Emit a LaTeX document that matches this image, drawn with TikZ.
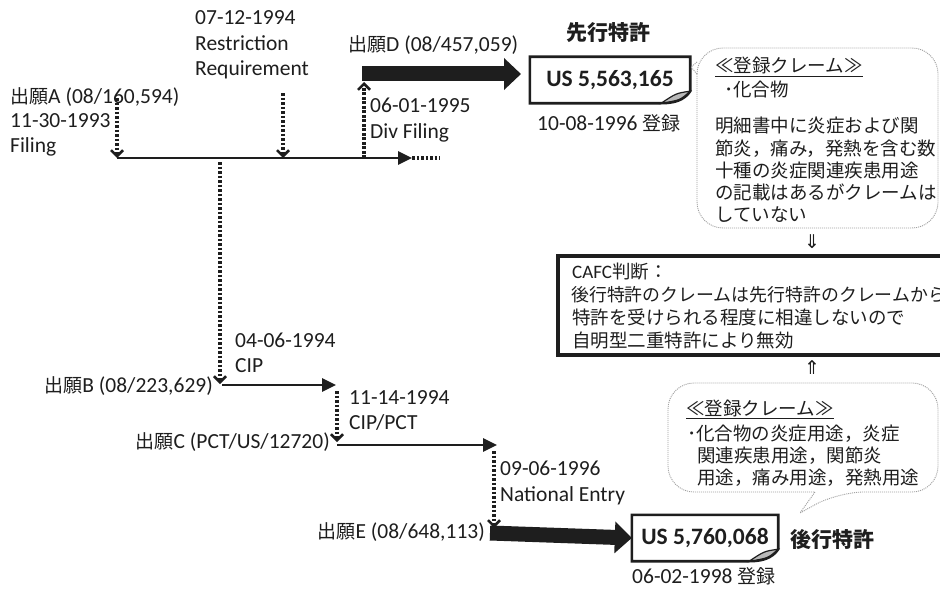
\documentclass[tikz,border=0pt]{standalone}
\usepackage{fontspec}
\setmainfont{Carlito}
\newfontfamily\jp{Noto Sans CJK JP}
\newfontfamily\djv{DejaVu Sans}
\usetikzlibrary{arrows.meta}
\definecolor{ink}{HTML}{1E1E1E}
\newcommand{\J}{\jp\fontsize{19}{24}\selectfont}
\newcommand{\LT}{\rmfamily\fontsize{19}{22}\selectfont}
\tikzset{
  lbl/.style={inner sep=0pt, anchor=west, text=ink, font=\fontsize{21.5}{24}\selectfont, text height=14pt, text depth=4pt},
  lble/.style={lbl, anchor=east},
  clt/.style={inner sep=0pt, anchor=west, text=ink, font=\jp\fontsize{18.5}{22}\selectfont, text height=14pt, text depth=4pt},
  dots/.style={draw=ink, line width=3.1pt, dash pattern=on 2.6pt off 1.9pt},
  vtip/.style={dots, -{Straight Barb[length=6pt,width=12pt,line width=2.5pt]}},
  solidarr/.style={draw=ink, line width=2.6pt, -{Triangle[length=14pt,width=13pt]}},
  bigarr/.style={draw=ink, line width=15pt, -{Triangle[length=17pt,width=31pt]}},
  noteframe/.style={draw=ink, line width=2.6pt},
  callout/.style={draw=gray!75, line width=0.9pt, dash pattern=on 1pt off 1pt},
  cafcbox/.style={draw=ink, line width=3.4pt},
  ttl/.style={inner sep=0pt, text=ink, font=\jp\bfseries\fontsize{21}{24}\selectfont},
  patno/.style={inner sep=0pt, text=ink, font=\bfseries\fontsize{23.5}{26}\selectfont},
  dbl/.style={inner sep=0pt, text=ink, font=\djv\fontsize{19}{20}\selectfont}
}
\newcommand{\notebox}[1]{%
  \draw[noteframe] (#1.north west) -- (#1.north east) -- ([yshift=12pt]#1.south east)
    .. controls ([xshift=-6pt,yshift=3pt]#1.south east) and ([xshift=-16pt]#1.south east) .. ([xshift=-29pt]#1.south east)
    -- (#1.south west) -- cycle;
  \filldraw[fill=gray!55, draw=ink, line width=1.2pt] ([xshift=-29pt]#1.south east)
    .. controls ([xshift=-14pt,yshift=10pt]#1.south east) .. ([yshift=12pt]#1.south east)
    .. controls ([xshift=-10pt,yshift=3pt]#1.south east) .. cycle;
}
\begin{document}
\begin{tikzpicture}[x=1pt,y=-1pt]
\useasboundingbox (0,0) rectangle (940,594);
\clip (0,0) rectangle (940,594);
\fill[white] (0,0) rectangle (940,594);

% ---- application A timeline
\node[lbl] (nA1) at (10,98) {{\J 出願}A (08/160,594)};
\node[lbl] (nA2) at (10,122) {11-30-1993};
\node[lbl] (nA3) at (10,147) {Filing};
\node[lbl] (nR1) at (195,20) {07-12-1994};
\node[lbl] (nR2) at (195,46) {Restriction};
\node[lbl] (nR3) at (195,71) {Requirement};
\node[lbl] (nD) at (348,47) {{\J 出願}D (08/457,059)};
\node[lbl] (nD1) at (370,108) {06-01-1995};
\node[lbl] (nD2) at (370,133) {Div Filing};

\coordinate (m0) at (117,158);
\coordinate (m1) at (412,158);
\coordinate (m2) at (440,158);
\coordinate (aTop) at (117,98);
\coordinate (rTop) at (283,93);
\coordinate (rBot) at (283,158);
\coordinate (dBot) at (364,158);
\coordinate (dTop) at (364,82);
\draw[solidarr] (m0) -- (m1);
\draw[dots] (m1) -- (m2);
\draw[vtip] (aTop) -- (m0);
\draw[vtip] (rTop) -- (rBot);
\draw[vtip] (dBot) -- (dTop);

% ---- prior patent
\node[ttl] (prior) at (608,33) {先行特許};
\node[patno, minimum width=160pt, minimum height=46pt] (us1) at (610,80) {US 5,563,165};
\notebox{us1}
\node[lbl] (reg1) at (537,125) {10-08-1996 {\J 登録}};
\coordinate (dS) at (362,74);
\coordinate (dE) at (521,74);
\draw[bigarr] (dS) -- (dE);

% ---- callout 1
\draw[callout, rounded corners=26pt] (697,48) rectangle (938,228);
\draw[callout] (697,62) -- (691,67) -- (697,74);
\node[clt] (c1a) at (715,68) {\underline{≪登録クレーム≫}};
\node[clt] (c1b) at (724,91) {･化合物};
\node[clt] (c1c) at (715,127) {明細書中に炎症および関};
\node[clt] (c1d) at (715,150) {節炎，痛み，発熱を含む数};
\node[clt] (c1e) at (715,172) {十種の炎症関連疾患用途};
\node[clt] (c1f) at (715,194) {の記載はあるがクレームは};
\node[clt] (c1g) at (715,216) {していない};

\node[dbl] (dn) at (812,242) {⇓};

% ---- CAFC box
\draw[cafcbox] (558,256) rectangle (960,355);
\node[clt] (k1) at (572,273) {{\LT CAFC}判断：};
\node[clt, font=\jp\fontsize{17.9}{22}\selectfont] (k2) at (571,296) {後行特許のクレームは先行特許のクレームから};
\node[clt] (k3) at (572,319) {特許を受けられる程度に相違しないので};
\node[clt] (k4) at (572,342) {自明型二重特許により無効};

\node[dbl] (up) at (812,368) {⇑};

% ---- callout 2
\draw[callout] (760,492) [rounded corners=26pt] -- (668,492) -- (668,383) -- (938,383) -- (938,492) -- (838,492) [sharp corners] -- (800,513) -- (815,492) -- cycle;
\node[clt] (c2a) at (686,410) {\underline{≪登録クレーム≫}};
\node[clt] (c2b) at (687,435) {･化合物の炎症用途，炎症};
\node[clt] (c2c) at (697,457) {関連疾患用途，関節炎};
\node[clt] (c2d) at (697,479) {用途，痛み用途，発熱用途};

% ---- applications B, C, E
\node[lbl] (nB1) at (235,342) {04-06-1994};
\node[lbl] (nB2) at (235,367) {CIP};
\node[lble] (nB) at (213,387) {{\J 出願}B (08/223,629)};
\node[lbl] (nC1) at (349,399) {11-14-1994};
\node[lbl] (nC2) at (349,424) {CIP/PCT};
\node[lble] (nC) at (330,443) {{\J 出願}C (PCT/US/12720)};
\node[lbl] (nE1) at (500,470) {09-06-1996};
\node[lbl] (nE2) at (500,496) {National Entry};
\node[lble] (nE) at (485,533) {{\J 出願}E (08/648,113)};

\coordinate (bTop) at (220,162);
\coordinate (bBot) at (220,384);
\coordinate (b0) at (222,385);
\coordinate (b1) at (336,385);
\coordinate (cTop) at (337,391);
\coordinate (cBot) at (337,442);
\coordinate (c0) at (337,445);
\coordinate (c1) at (497,445);
\coordinate (eTop) at (494,451);
\coordinate (eBot) at (494,528);
\draw[vtip] (bTop) -- (bBot);
\draw[solidarr] (b0) -- (b1);
\draw[vtip] (cTop) -- (cBot);
\draw[solidarr] (c0) -- (c1);
\draw[vtip] (eTop) -- (eBot);

% ---- later patent
\node[patno, minimum width=146pt, minimum height=46pt] (us2) at (705,538) {US 5,760,068};
\notebox{us2}
\node[ttl] (later) at (832,540) {後行特許};
\node[lbl] (reg2) at (632,578) {06-02-1998 {\J 登録}};
\coordinate (eS) at (490,533);
\draw[bigarr] (eS) -- (us2.west);
\end{tikzpicture}
\end{document}
